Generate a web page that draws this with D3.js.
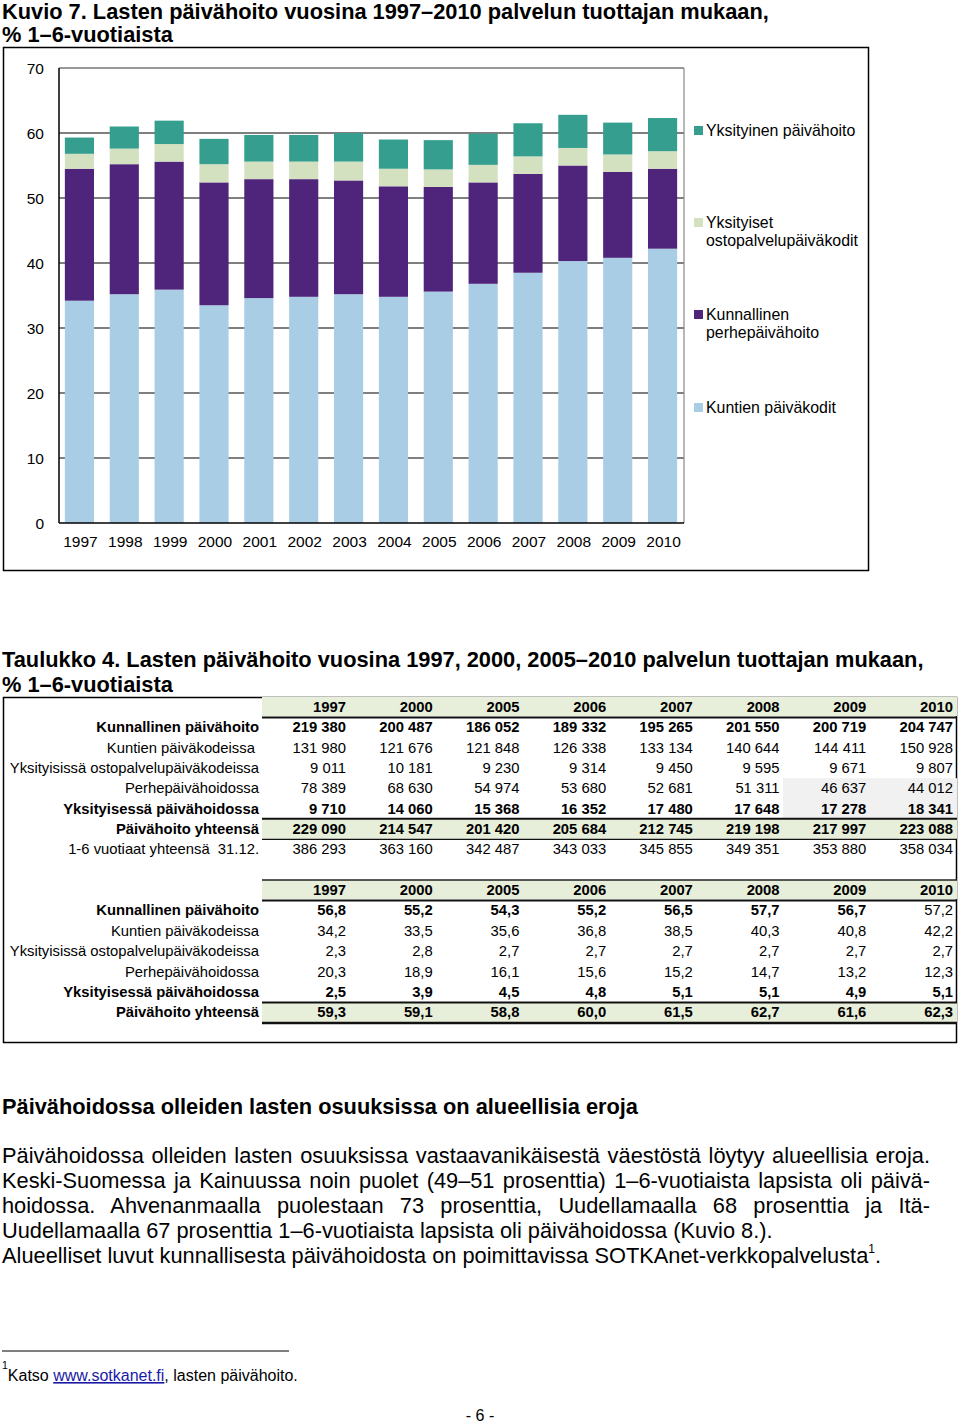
<!DOCTYPE html>
<html>
<head>
<meta charset="utf-8">
<script src="https://cdn.jsdelivr.net/npm/d3@7"></script>
<style>
  html, body { margin: 0; padding: 0; background: #fff; }
  svg { display: block; font-family: "Liberation Sans", Arial, sans-serif; }
</style>
</head>
<body>
<script>
// ---------- Chart data (Kuvio 7) ----------
const years = ["1997","1998","1999","2000","2001","2002","2003","2004","2005","2006","2007","2008","2009","2010"];
const kuntienPaivakodit   = [34.2, 35.2, 35.9, 33.5, 34.6, 34.8, 35.2, 34.8, 35.6, 36.8, 38.5, 40.3, 40.8, 42.2];
const kunnallinenPerhe    = [20.3, 20.0, 19.7, 18.9, 18.3, 18.1, 17.5, 17.0, 16.1, 15.6, 15.2, 14.7, 13.2, 12.3];
const yksityisetOsto      = [2.3, 2.4, 2.7, 2.8, 2.7, 2.7, 2.9, 2.7, 2.7, 2.7, 2.7, 2.7, 2.7, 2.7];
const yksityinenPaivahoito= [2.5, 3.4, 3.6, 3.9, 4.1, 4.1, 4.4, 4.5, 4.5, 4.8, 5.1, 5.1, 4.9, 5.1];
const seriesNames = ["Kuntien päiväkodit", "Kunnallinen perhepäivähoito", "Yksityiset ostopalvelupäiväkodit", "Yksityinen päivähoito"];
const seriesColors = ["#a9cde4", "#4f247b", "#d4e1c0", "#359e8e"];
const yTicks = [0, 10, 20, 30, 40, 50, 60, 70];

// ---------- Table data (Taulukko 4) ----------
const tableYears = ["1997","2000","2005","2006","2007","2008","2009","2010"];
const table1Labels = ["Kunnallinen päivähoito","Kuntien päiväkodeissa ","Yksityisissä ostopalvelupäiväkodeissa","Perhepäivähoidossa","Yksityisessä päivähoidossa","Päivähoito yhteensä","1-6 vuotiaat yhteensä  31.12."];
const table1Bold = [true,false,false,false,true,true,false];
const t1Kunnallinen = ["219 380","200 487","186 052","189 332","195 265","201 550","200 719","204 747"];
const t1Kuntien     = ["131 980","121 676","121 848","126 338","133 134","140 644","144 411","150 928"];
const t1Osto        = ["9 011","10 181","9 230","9 314","9 450","9 595","9 671","9 807"];
const t1Perhe       = ["78 389","68 630","54 974","53 680","52 681","51 311","46 637","44 012"];
const t1Yksityinen  = ["9 710","14 060","15 368","16 352","17 480","17 648","17 278","18 341"];
const t1Yhteensa    = ["229 090","214 547","201 420","205 684","212 745","219 198","217 997","223 088"];
const t1Vuotiaat    = ["386 293","363 160","342 487","343 033","345 855","349 351","353 880","358 034"];

const table2Labels = ["Kunnallinen päivähoito","Kuntien päiväkodeissa","Yksityisissä ostopalvelupäiväkodeissa","Perhepäivähoidossa","Yksityisessä päivähoidossa","Päivähoito yhteensä"];
const table2Bold = [true,false,false,false,true,true];
const t2Kunnallinen = ["56,8","55,2","54,3","55,2","56,5","57,7","56,7","57,2"];
const t2Kuntien     = ["34,2","33,5","35,6","36,8","38,5","40,3","40,8","42,2"];
const t2Osto        = ["2,3","2,8","2,7","2,7","2,7","2,7","2,7","2,7"];
const t2Perhe       = ["20,3","18,9","16,1","15,6","15,2","14,7","13,2","12,3"];
const t2Yksityinen  = ["2,5","3,9","4,5","4,8","5,1","5,1","4,9","5,1"];
const t2Yhteensa    = ["59,3","59,1","58,8","60,0","61,5","62,7","61,6","62,3"];

const W = 960, H = 1425;
const svg = d3.select("body").append("svg").attr("width", W).attr("height", H);
const BIG = 21.8;

// ---------- Title ----------
const title = svg.append("g").attr("font-weight", "bold").attr("font-size", BIG).attr("fill", "#000");
title.append("text").attr("x", 2).attr("y", 19).text("Kuvio 7. Lasten päivähoito vuosina 1997–2010 palvelun tuottajan mukaan,");
title.append("text").attr("x", 2).attr("y", 42).text("% 1–6-vuotiaista");

// ---------- Chart ----------
svg.append("rect").attr("x", 3.5).attr("y", 47.5).attr("width", 865).attr("height", 523)
  .attr("fill", "none").attr("stroke", "#000").attr("stroke-width", 1.5);

const plot = { left: 59, right: 684, top: 68, bottom: 523 };
const x = d3.scaleBand().domain(years).range([57, 685]).paddingInner(0.35).paddingOuter(0.175);
const y = d3.scaleLinear().domain([0, 70]).range([plot.bottom, plot.top]);

// gridlines
svg.append("g").selectAll("line").data(yTicks.filter(t => t > 0 && t < 70)).join("line")
  .attr("x1", plot.left).attr("x2", plot.right)
  .attr("y1", d => y(d)).attr("y2", d => y(d))
  .attr("stroke", "#000").attr("stroke-width", 1.2);
// plot frame top/right
svg.append("line").attr("x1", plot.left).attr("x2", plot.right).attr("y1", y(70)).attr("y2", y(70))
  .attr("stroke", "#333").attr("stroke-width", 1.2);
svg.append("line").attr("x1", plot.right).attr("x2", plot.right).attr("y1", y(70)).attr("y2", y(0))
  .attr("stroke", "#888").attr("stroke-width", 1.2);

// stacked data
const stackRows = years.map((yr, i) => ({
  year: yr,
  s0: kuntienPaivakodit[i], s1: kunnallinenPerhe[i], s2: yksityisetOsto[i], s3: yksityinenPaivahoito[i]
}));
const stack = d3.stack().keys(["s0","s1","s2","s3"])(stackRows);
svg.append("g").selectAll("g").data(stack).join("g")
  .attr("fill", (d, i) => seriesColors[i])
  .selectAll("rect").data(d => d).join("rect")
  .attr("x", d => x(d.data.year))
  .attr("width", x.bandwidth())
  .attr("y", d => y(d[1]))
  .attr("height", d => y(d[0]) - y(d[1]));

// axes lines
svg.append("line").attr("x1", plot.left).attr("x2", plot.left).attr("y1", y(70)).attr("y2", y(0))
  .attr("stroke", "#000").attr("stroke-width", 1.5);
svg.append("line").attr("x1", plot.left).attr("x2", plot.right).attr("y1", y(0)).attr("y2", y(0))
  .attr("stroke", "#000").attr("stroke-width", 1.5);

// y labels
svg.append("g").selectAll("text").data(yTicks).join("text")
  .attr("x", 44).attr("y", d => y(d) + 5.5)
  .attr("text-anchor", "end").attr("font-size", 15.5).text(d => d);
// x labels
svg.append("g").selectAll("text").data(years).join("text")
  .attr("x", d => x(d) + x.bandwidth() / 2 + 1).attr("y", 547)
  .attr("text-anchor", "middle").attr("font-size", 15.5).text(d => d);

// legend
const legendItems = [
  { i: 3, lines: ["Yksityinen päivähoito"], y: 130 },
  { i: 2, lines: ["Yksityiset", "ostopalvelupäiväkodit"], y: 222 },
  { i: 1, lines: ["Kunnallinen", "perhepäivähoito"], y: 314 },
  { i: 0, lines: ["Kuntien päiväkodit"], y: 407 }
];
const lg = svg.append("g");
legendItems.forEach(it => {
  lg.append("rect").attr("x", 694).attr("y", it.y - 4).attr("width", 9).attr("height", 9)
    .attr("fill", seriesColors[it.i]);
  it.lines.forEach((ln, k) => {
    lg.append("text").attr("x", 706).attr("y", it.y + 5.5 + k * 18)
      .attr("font-size", 15.9).text(ln);
  });
});

// ---------- Table ----------
const tt = svg.append("g").attr("font-weight", "bold").attr("font-size", BIG);
tt.append("text").attr("x", 2).attr("y", 667).text("Taulukko 4. Lasten päivähoito vuosina 1997, 2000, 2005–2010 palvelun tuottajan mukaan,");
tt.append("text").attr("x", 2).attr("y", 692).text("% 1–6-vuotiaista");

const colX = d3.scalePoint().domain(tableYears).range([346, 953]);
const labelX = 259;
const greenBg = "#e7eed9";
const TF = 14.8;

function drawTable(g, topY, rowStep, labels, bold, rows, yhtIndex, opts) {
  const rowY = i => topY + rowStep * (i + 1);
  g.append("rect").attr("x", 262).attr("y", topY - 10).attr("width", 695).attr("height", 19).attr("fill", greenBg);
  g.append("rect").attr("x", 262).attr("y", rowY(yhtIndex) - 10).attr("width", 695).attr("height", 20).attr("fill", greenBg);
  if (opts.gray) {
    g.append("rect").attr("x", 783).attr("y", rowY(3) - 10).attr("width", 174).attr("height", 40).attr("fill", "#f1f1f1");
  }
  if (opts.topLine) {
    g.append("line").attr("x1", 262).attr("x2", 957).attr("y1", topY - 10).attr("y2", topY - 10)
      .attr("stroke", "#222").attr("stroke-width", 1.5);
  }
  const hl = (yy, w) => g.append("line").attr("x1", 262).attr("x2", 957).attr("y1", yy).attr("y2", yy)
      .attr("stroke", "#111").attr("stroke-width", w);
  hl(topY + 10.5, 2);
  hl(rowY(yhtIndex) - 10, 2);
  hl(rowY(yhtIndex) + 10.5, opts.bottomW);

  g.append("g").selectAll("text").data(tableYears).join("text")
    .attr("x", d => colX(d)).attr("y", topY + 5).attr("text-anchor", "end")
    .attr("font-size", TF).attr("font-weight", "bold").text(d => d);
  labels.forEach((lab, i) => {
    g.append("text").attr("x", labelX).attr("y", rowY(i) + 5).attr("text-anchor", "end")
      .attr("font-size", TF).attr("font-weight", bold[i] ? "bold" : "normal")
      .attr("xml:space", "preserve").style("white-space", "pre").text(lab);
    g.append("g").selectAll("text").data(rows[i]).join("text")
      .attr("x", (d, j) => colX(tableYears[j])).attr("y", rowY(i) + 5).attr("text-anchor", "end")
      .attr("font-size", TF)
      .attr("font-weight", (d, j) => (bold[i] && !(opts.lastPlain && i === 0 && j === 7)) ? "bold" : "normal")
      .text(d => d);
  });
}

svg.append("rect").attr("x", 3.5).attr("y", 697.5).attr("width", 953).attr("height", 345)
  .attr("fill", "none").attr("stroke", "#000").attr("stroke-width", 1.5);

drawTable(svg.append("g"), 707, 20.3, table1Labels, table1Bold,
  [t1Kunnallinen, t1Kuntien, t1Osto, t1Perhe, t1Yksityinen, t1Yhteensa, t1Vuotiaat], 5,
  { gray: true, topLine: false, bottomW: 1.2, lastPlain: false });
drawTable(svg.append("g"), 890, 20.4, table2Labels, table2Bold,
  [t2Kunnallinen, t2Kuntien, t2Osto, t2Perhe, t2Yksityinen, t2Yhteensa], 5,
  { gray: false, topLine: true, bottomW: 2.5, lastPlain: true });

// ---------- Body text ----------
svg.append("text").attr("x", 2).attr("y", 1114).attr("font-size", BIG).attr("font-weight", "bold")
  .text("Päivähoidossa olleiden lasten osuuksissa on alueellisia eroja");

const paraLines = [
  { t: "Päivähoidossa olleiden lasten osuuksissa vastaavanikäisestä väestöstä löytyy alueellisia eroja.", j: true },
  { t: "Keski-Suomessa ja Kainuussa noin puolet (49–51 prosenttia) 1–6-vuotiaista lapsista oli päivä-", j: true },
  { t: "hoidossa. Ahvenanmaalla puolestaan 73 prosenttia, Uudellamaalla 68 prosenttia ja Itä-", j: true },
  { t: "Uudellamaalla 67 prosenttia 1–6-vuotiaista lapsista oli päivähoidossa (Kuvio 8.).", j: false }
];
const targetW = 928;
paraLines.forEach((ln, i) => {
  const t = svg.append("text").attr("x", 2).attr("y", 1163 + i * 25).attr("font-size", BIG).text(ln.t);
  if (ln.j) {
    const natural = t.node().getComputedTextLength();
    const spaces = (ln.t.match(/ /g) || []).length;
    const ws = (targetW - natural) / spaces;
    if (ws > 0) t.attr("word-spacing", ws);
    else t.attr("textLength", targetW).attr("lengthAdjust", "spacingAndGlyphs");
  }
});
const last = svg.append("text").attr("x", 2).attr("y", 1263).attr("font-size", BIG);
last.append("tspan").text("Alueelliset luvut kunnallisesta päivähoidosta on poimittavissa SOTKAnet-verkkopalvelusta");
last.append("tspan").attr("font-size", 12).attr("dy", -10).text("1");
last.append("tspan").attr("dy", 10).text(".");

// ---------- Footnote ----------
svg.append("line").attr("x1", 2).attr("x2", 289).attr("y1", 1351).attr("y2", 1351)
  .attr("stroke", "#000").attr("stroke-width", 1.2);
const fn = svg.append("text").attr("x", 2).attr("y", 1381).attr("font-size", 16);
fn.append("tspan").attr("font-size", 10.5).attr("dy", -12).text("1");
fn.append("tspan").attr("dy", 12).text("Katso ");
fn.append("tspan").attr("fill", "#1a1aa6").attr("text-decoration", "underline").text("www.sotkanet.fi");
fn.append("tspan").text(", lasten päivähoito.");

svg.append("text").attr("x", 480).attr("y", 1421).attr("text-anchor", "middle").attr("font-size", 16).text("- 6 -");
</script>
</body>
</html>
